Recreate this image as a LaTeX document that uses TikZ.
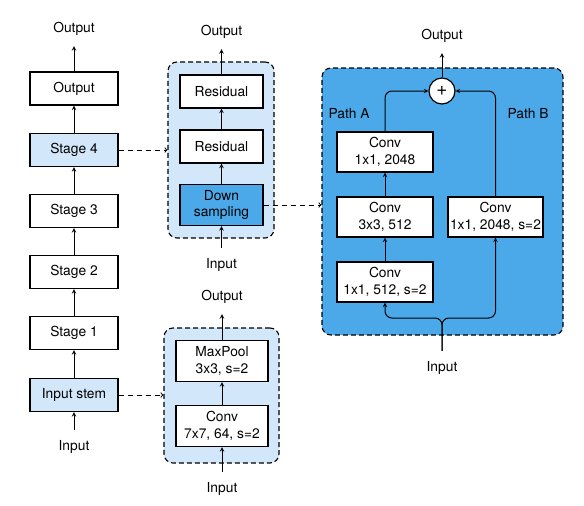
\documentclass[tikz,border=0pt]{standalone}
\usepackage{fontspec}
\setmainfont{TeX Gyre Heros}
\usetikzlibrary{positioning,arrows}
\definecolor{lightblue}{HTML}{D3E7FB}
\definecolor{darkblue}{HTML}{4CA9E9}

\begin{document}
\begin{tikzpicture}[x=1pt,y=-1pt,>=stealth,line width=1pt,
  every node/.style={font=\fontsize{13.8}{16.5}\selectfont},
  box/.style={rectangle,draw,line width=1.2pt,fill=white,minimum width=88pt,minimum height=33pt,align=center,inner sep=1pt},
  tall/.style={box,minimum height=41pt},
  panel/.style={rectangle,draw,dash pattern=on 5pt off 3pt,rounded corners=9pt,line width=1.1pt},
  lbl/.style={inner xsep=2pt,inner ysep=10pt},
  link/.style={dash pattern=on 5pt off 4pt,-to}]
\useasboundingbox (0,0) rectangle (584,506);

% backgrounds
\node[panel,fill=lightblue,minimum width=106pt,minimum height=176pt] (stagebox) at (221,150) {};
\node[panel,fill=lightblue,minimum width=115pt,minimum height=135pt] (stembox) at (221.5,395.5) {};
\node[panel,fill=darkblue,minimum width=241pt,minimum height=267pt] (resbox) at (442.5,201.5) {};

% left column
\node[lbl] (outL) at (74,29) {Output};
\node[box] (out) at (74,88.5) {Output};
\node[box,fill=lightblue] (s4) at (74,150) {Stage 4};
\node[box] (s3) at (74,211) {Stage 3};
\node[box] (s2) at (74,272) {Stage 2};
\node[box] (s1) at (74,333) {Stage 1};
\node[box,fill=lightblue] (stem) at (74,395) {Input stem};
\node[lbl] (inL) at (74,447) {Input};
\draw[->] (inL) -- (stem);
\draw[->] (stem) -- (s1);
\draw[->] (s1) -- (s2);
\draw[->] (s2) -- (s3);
\draw[->] (s3) -- (s4);
\draw[->] (s4) -- (out);
\draw[->] (out) -- (outL);

% stage
\node[lbl] (outS) at (221.5,32) {Output};
\node[box,minimum width=83pt] (r2) at (221.5,91.5) {Residual};
\node[box,minimum width=83pt] (r1) at (221.5,146.5) {Residual};
\node[tall,minimum width=83pt,fill=darkblue] (down) at (221.5,205) {Down\\sampling};
\node[lbl] (inS) at (221.5,265) {Input};
\draw[->] (inS) -- (down);
\draw[->] (down) -- (r1);
\draw[->] (r1) -- (r2);
\draw[->] (r2) -- (outS);

% stem
\node[lbl] (outP) at (222,297) {Output};
\node[tall,minimum width=92pt] (pool) at (222,361) {MaxPool\\3x3, s=2};
\node[tall,minimum width=92pt] (conv7) at (222,426) {Conv\\7x7, 64, s=2};
\node[lbl] (inP) at (222,489) {Input};
\draw[->] (inP) -- (conv7);
\draw[->] (conv7) -- (pool);
\draw[->] (pool) -- (outP);

% residual block
\node[lbl] (outR) at (442,36) {Output};
\node[circle,draw,line width=1.2pt,fill=white,minimum size=26pt,inner sep=0pt,font=\fontsize{19}{19}\selectfont] (add) at (442,91) {+};
\node (pathA) at (349,114) {Path A};
\node (pathB) at (528,114) {Path B};
\node[tall,minimum width=96pt,minimum height=40pt] (ca3) at (385,152) {Conv\\1x1, 2048};
\node[tall,minimum width=96pt,minimum height=40pt] (ca2) at (385,217) {Conv\\3x3, 512};
\node[tall,minimum width=96pt,minimum height=40pt] (ca1) at (385,282) {Conv\\1x1, 512, s=2};
\node[tall,minimum width=95pt,minimum height=40pt] (cb) at (495.5,217) {Conv\\1x1, 2048, s=2};
\node[lbl] (inR) at (442,368) {Input};
\coordinate (split) at (442,318);
\draw[->,rounded corners=7pt] (inR.north) -- (split) -| (ca1.south);
\draw[->,rounded corners=7pt] (inR.north) -- (split) -| (cb.south);
\draw[->] (ca1) -- (ca2);
\draw[->] (ca2) -- (ca3);
\draw[->,rounded corners=7pt] (ca3.north) |- (add.west);
\draw[->,rounded corners=7pt] (cb.north) |- (add.east);
\draw[->] (add) -- (outR);

% links
\draw[link] (s4.east) -- (stagebox.west);
\draw[link] (stem.east) -- (stem.east -| stembox.west);
\draw[link] (down.east) -- (down.east -| resbox.west);
\end{tikzpicture}
\end{document}
